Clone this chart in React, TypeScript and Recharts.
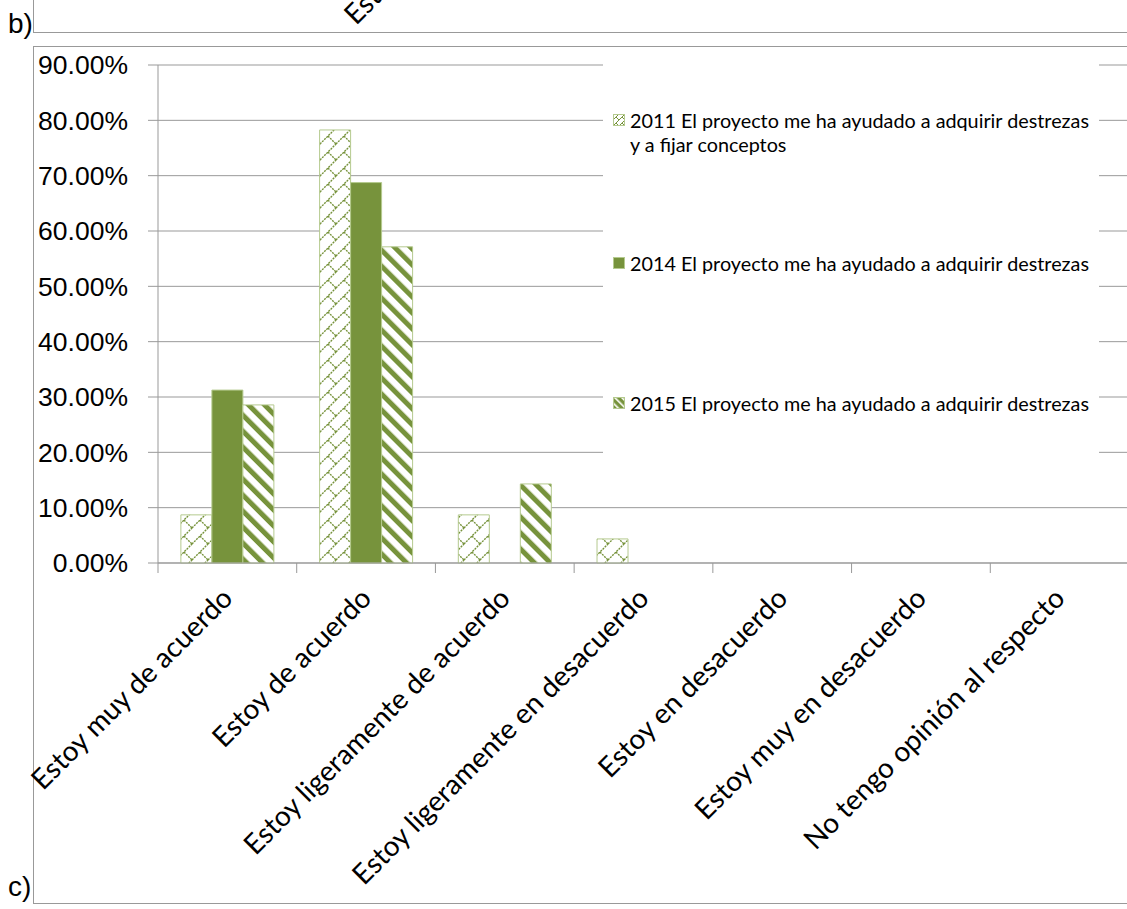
import { BarChart, Bar, XAxis, YAxis, CartesianGrid } from "recharts"

const CATEGORIES = [
  "Estoy muy de acuerdo",
  "Estoy de acuerdo",
  "Estoy ligeramente de acuerdo",
  "Estoy ligeramente en desacuerdo",
  "Estoy en desacuerdo",
  "Estoy muy en desacuerdo",
  "No tengo opinión al respecto",
]
const VALUES_2011 = [8.7, 78.26, 8.7, 4.35, 0, 0, 0]
const VALUES_2014 = [31.25, 68.75, 0, 0, 0, 0, 0]
const VALUES_2015 = [28.57, 57.14, 14.29, 0, 0, 0, 0]
const SERIES_NAMES = [
  "2011 El proyecto me ha ayudado a adquirir destrezas y a fijar conceptos",
  "2014 El proyecto me ha ayudado a adquirir destrezas",
  "2015 El proyecto me ha ayudado a adquirir destrezas",
]
const Y_TICKS = [0, 10, 20, 30, 40, 50, 60, 70, 80, 90]

const GREEN = "#77933C"
const EDGE = "#B5CA8F"
const LINE = "#999999"
const LABEL_FONT = "Lato, 'Open Sans', sans-serif"
const NUM_FONT = "'Liberation Sans', Arial, sans-serif"

const PLOT_LEFT = 158
const PLOT_RIGHT = 1129
const BAND = (PLOT_RIGHT - PLOT_LEFT) / CATEGORIES.length

const data = CATEGORIES.map((c, i) => ({
  name: c,
  s2011: VALUES_2011[i],
  s2014: VALUES_2014[i],
  s2015: VALUES_2015[i],
}))

function CategoryTick(props: any) {
  const { x, y, payload } = props
  const i = payload.index ?? props.index
  const half = BAND / 2
  return (
    <g>
      <line x1={x - half} x2={x - half} y1={y} y2={y + 10} stroke={LINE} />
      {i === CATEGORIES.length - 1 && (
        <line x1={x + half} x2={x + half} y1={y} y2={y + 10} stroke={LINE} />
      )}
      <text
        transform={`translate(${x},${y + 30}) rotate(-45)`}
        textAnchor="end"
        dy="0.35em"
        fontFamily={LABEL_FONT}
        fontSize={28}
        fill="#000"
      >
        {payload.value}
      </text>
    </g>
  )
}

function Patterns() {
  return (
    <svg width={0} height={0} style={{ position: "absolute" }}>
      <defs>
        <pattern id="p2011" patternUnits="userSpaceOnUse" width={16} height={16}>
          <rect width={16} height={16} fill="#fff" />
          <path d="M0 16 L16 0 M8 8 L16 16 M-1 1 L1 -1 M15 17 L17 15" stroke={GREEN} strokeWidth={1.4} strokeDasharray="2 1" fill="none" />
        </pattern>
        <pattern id="p2015" patternUnits="userSpaceOnUse" width={11.3} height={11.3} patternTransform="rotate(-45)">
          <rect width={11.3} height={11.3} fill="#fff" />
          <rect width={5} height={11.3} fill={GREEN} />
        </pattern>
        <pattern id="p2011s" patternUnits="userSpaceOnUse" width={6} height={6}>
          <rect width={6} height={6} fill="#fff" />
          <path d="M0 6 L6 0 M3 3 L6 6" stroke={GREEN} strokeWidth={1} fill="none" />
        </pattern>
        <pattern id="p2015s" patternUnits="userSpaceOnUse" width={5} height={5} patternTransform="rotate(-45)">
          <rect width={5} height={5} fill={GREEN} />
          <rect width={1.6} height={5} fill="#fff" />
        </pattern>
      </defs>
    </svg>
  )
}

const SWATCHES = ["url(#p2011s)", GREEN, "url(#p2015s)"]
const LEGEND_TOPS = [108, 251, 391]

function ChartLegend() {
  return (
    <div
      style={{
        position: "absolute",
        left: 603,
        top: 55,
        width: 496,
        height: 420,
        background: "#fff",
        fontFamily: LABEL_FONT,
        fontSize: 19.8,
        color: "#000",
      }}
    >
      {SERIES_NAMES.map((n, i) => (
        <div
          key={n}
          style={{ position: "absolute", left: 0, top: LEGEND_TOPS[i] - 55, width: 496 }}
        >
          <svg width={12} height={12} style={{ position: "absolute", left: 10, top: 6 }}>
            <rect x={0.5} y={0.5} width={11} height={11} fill={SWATCHES[i]} stroke={EDGE} />
          </svg>
          <div style={{ marginLeft: 27, width: 464, lineHeight: "24px" }}>{n}</div>
        </div>
      ))}
    </div>
  )
}

export default function App() {
  return (
    <div
      style={{
        position: "absolute",
        left: 0,
        top: 0,
        width: 1127,
        height: 909,
        overflow: "hidden",
        background: "#fff",
      }}
    >
      <Patterns />
      {/* frame of the previous figure, only its bottom edge shows */}
      <div
        style={{
          position: "absolute",
          left: 33,
          top: -2,
          width: 1200,
          height: 34,
          borderLeft: `1px solid ${LINE}`,
          borderBottom: `1px solid ${LINE}`,
          overflow: "hidden",
        }}
      >
        <svg width={1200} height={34} style={{ position: "absolute", left: 0, top: 0 }}>
          <text
            transform="translate(322,28) rotate(-45)"
            fontFamily={LABEL_FONT}
            fontSize={28}
            fill="#000"
          >
            Estoy de acuerdo
          </text>
        </svg>
      </div>
      <div style={{ position: "absolute", left: 8, top: 5, fontFamily: NUM_FONT, fontSize: 28, lineHeight: "38px" }}>b)</div>
      <div style={{ position: "absolute", left: 8, top: 868, fontFamily: NUM_FONT, fontSize: 28, lineHeight: "38px" }}>c)</div>
      <div
        style={{
          position: "absolute",
          left: 33,
          top: 46,
          width: 1200,
          height: 856,
          borderLeft: `1px solid ${LINE}`,
          borderTop: `1px solid ${LINE}`,
          borderBottom: `1px solid ${LINE}`,
        }}
      />
      <div style={{ position: "absolute", left: 0, top: 0 }}>
        <BarChart
          width={PLOT_RIGHT}
          height={909}
          data={data}
          margin={{ top: 65, right: 0, bottom: 0, left: 0 }}
          barCategoryGap="16.5%"
          barGap={0}
        >
          <CartesianGrid vertical={false} stroke={LINE} />
          <XAxis
            dataKey="name"
            height={346}
            interval={0}
            tickSize={0}
            tickMargin={0}
            tickLine={false}
            axisLine={{ stroke: LINE }}
            tick={<CategoryTick />}
          />
          <YAxis
            width={PLOT_LEFT}
            domain={[0, 90]}
            ticks={Y_TICKS}
            tickFormatter={(v: number) => `${v.toFixed(2)}%`}
            tickSize={10}
            tickMargin={20}
            axisLine={{ stroke: LINE }}
            tickLine={{ stroke: LINE }}
            tick={{ fill: "#000", fontFamily: NUM_FONT, fontSize: 26.5 }}
          />
          <Bar dataKey="s2011" name={SERIES_NAMES[0]} fill="url(#p2011)" stroke={EDGE} isAnimationActive={false} />
          <Bar dataKey="s2014" name={SERIES_NAMES[1]} fill={GREEN} stroke={EDGE} isAnimationActive={false} />
          <Bar dataKey="s2015" name={SERIES_NAMES[2]} fill="url(#p2015)" stroke={EDGE} isAnimationActive={false} />
        </BarChart>
      </div>
      <ChartLegend />
    </div>
  )
}
